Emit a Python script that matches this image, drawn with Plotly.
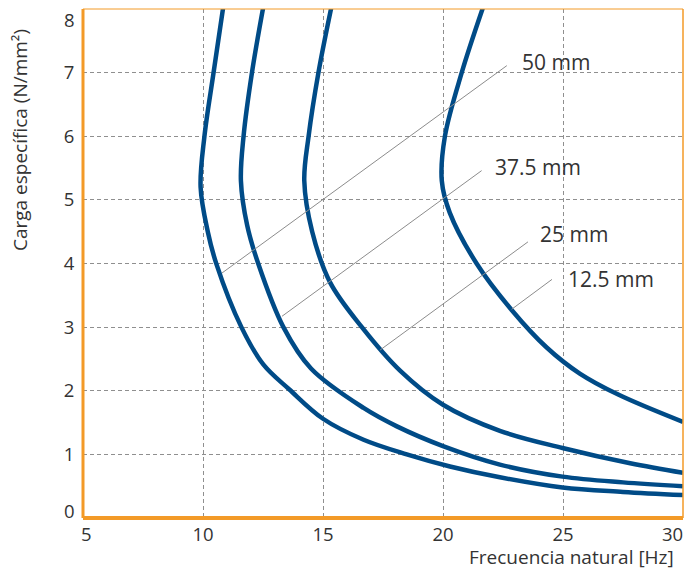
import plotly.graph_objects as go

# ---- data ----
freq_50 = [10.85, 10.44, 10.06, 9.90, 10.20, 10.56, 11.60, 12.52, 13.60, 15.00, 16.69, 18.49, 20.29, 22.37, 24.98, 27.5, 30.0]
load_50 = [8.05, 7.0, 6.0, 5.2, 4.5, 3.99, 3.0, 2.41, 2.02, 1.56, 1.23, 1.0, 0.81, 0.64, 0.48, 0.41, 0.36]

freq_375 = [12.52, 12.04, 11.69, 11.58, 11.84, 12.30, 13.35, 14.50, 16.69, 18.08, 20.0, 22.37, 24.98, 27.5, 30.0]
load_375 = [8.05, 7.0, 6.0, 5.3, 4.6, 4.0, 3.0, 2.35, 1.73, 1.44, 1.13, 0.84, 0.65, 0.56, 0.50]

freq_25 = [15.36, 14.81, 14.40, 14.22, 14.55, 15.30, 16.62, 18.20, 20.0, 22.37, 24.98, 27.8, 30.0]
load_25 = [8.05, 7.0, 6.0, 5.3, 4.5, 3.70, 3.0, 2.32, 1.78, 1.37, 1.10, 0.86, 0.71]

freq_125 = [21.69, 20.78, 20.08, 19.95, 20.28, 21.40, 22.86, 24.32, 25.70, 27.30, 30.0]
load_125 = [8.05, 7.0, 6.0, 5.3, 4.8, 4.0, 3.27, 2.68, 2.27, 1.94, 1.51]

series_labels = ["50 mm", "37.5 mm", "25 mm", "12.5 mm"]
leader_x0 = [10.79, 13.29, 17.38, 22.86]
leader_y0 = [3.85, 3.17, 2.64, 3.28]
leader_x1 = [22.66, 21.61, 23.54, 24.54]
leader_y1 = [7.11, 5.46, 4.34, 3.75]
label_x = [23.2, 22.08, 23.95, 25.12]
label_y = [7.17, 5.51, 4.46, 3.76]

x_tick_vals = [10, 15, 20, 25]
x_tick_text = ["10", "15", "20", "25"]
x_end_vals = [5, 30]
x_end_text = ["5", "30"]
y_tick_vals = [1, 2, 3, 4, 5, 6, 7]
y_tick_text = ["1", "2", "3", "4", "5", "6", "7"]
y_end_vals = [0.12, 7.83]
y_end_text = ["0", "8"]

x_title = "Frecuencia natural [Hz]"
y_title = "Carga específica (N/mm²)"

BLUE = "#004B87"
ORANGE = "#F39A27"
TXT = "#333333"
FONT = "Open Sans"
FS = 19
FS_TICK = 18.5
FS_ANN = 21

fig = go.Figure()

for fx, fy in [(freq_50, load_50), (freq_375, load_375), (freq_25, load_25), (freq_125, load_125)]:
    fig.add_trace(go.Scatter(x=fx, y=fy, mode="lines",
                             line=dict(color=BLUE, width=4.5, shape="spline", smoothing=1.0),
                             hoverinfo="skip", showlegend=False))

for i in range(len(series_labels)):
    fig.add_trace(go.Scatter(x=[leader_x0[i], leader_x1[i]], y=[leader_y0[i], leader_y1[i]],
                             mode="lines", line=dict(color="#8c8c8c", width=1),
                             hoverinfo="skip", showlegend=False))
    fig.add_annotation(x=label_x[i], y=label_y[i], text=series_labels[i], showarrow=False,
                       xanchor="left", yanchor="middle", font=dict(family=FONT, size=FS_ANN, color=TXT))

# end tick labels
fig.add_annotation(x=x_end_vals[0], y=0, yref="paper", text=x_end_text[0], showarrow=False,
                   xanchor="left", yanchor="top", xshift=-3, yshift=-2, borderpad=0,
                   font=dict(family=FONT, size=FS_TICK, color=TXT))
fig.add_annotation(x=x_end_vals[1], y=0, yref="paper", text=x_end_text[1], showarrow=False,
                   xanchor="right", yanchor="top", xshift=1, yshift=-2, borderpad=0,
                   font=dict(family=FONT, size=FS_TICK, color=TXT))
for v, t in zip(y_end_vals, y_end_text):
    fig.add_annotation(x=0, xref="paper", y=v, text=t, showarrow=False,
                       xanchor="right", yanchor="middle", xshift=-6,
                       font=dict(family=FONT, size=FS_TICK, color=TXT))

fig.add_annotation(x=1, xref="paper", y=0, yref="paper", text=x_title, showarrow=False,
                   xanchor="right", yanchor="middle", xshift=-8, yshift=-39, borderpad=0,
                   font=dict(family=FONT, size=FS, color=TXT))
fig.add_annotation(x=-0.105, xref="paper", y=1, yref="paper", text=y_title, showarrow=False,
                   textangle=-90, xanchor="center", yanchor="top", yshift=-18,
                   font=dict(family=FONT, size=FS, color=TXT))

# frame
fig.add_shape(type="line", xref="paper", yref="paper", x0=0, x1=1, y0=1, y1=1,
              line=dict(color=ORANGE, width=1))
fig.add_shape(type="line", xref="paper", yref="paper", x0=1, x1=1, y0=0, y1=1,
              line=dict(color=ORANGE, width=1.5))
fig.add_shape(type="line", xref="paper", yref="paper", x0=0, x1=0, y0=0, y1=1,
              line=dict(color=ORANGE, width=3))
fig.add_shape(type="line", xref="paper", yref="paper", x0=0, x1=1, y0=0, y1=0,
              line=dict(color=ORANGE, width=4))

fig.update_xaxes(range=[5, 30], tickvals=x_tick_vals, ticktext=x_tick_text,
                 showgrid=True, gridcolor="#8f8f8f", griddash="4px,3px", gridwidth=1,
                 zeroline=False, showline=False, ticks="outside", ticklen=0,
                 tickcolor="rgba(0,0,0,0)", tickfont=dict(family=FONT, size=FS_TICK, color=TXT))
fig.update_yaxes(range=[0, 8.0], tickvals=y_tick_vals, ticktext=y_tick_text,
                 showgrid=True, gridcolor="#8f8f8f", griddash="4px,3px", gridwidth=1,
                 zeroline=False, showline=False, ticks="outside", ticklen=4,
                 tickcolor="rgba(0,0,0,0)", tickfont=dict(family=FONT, size=FS_TICK, color=TXT))

fig.update_layout(width=684, height=569, margin=dict(l=83, r=1, t=9, b=51),
                  plot_bgcolor="white", paper_bgcolor="white", showlegend=False)

fig.write_html("out.html", config={"displayModeBar": False},
               post_script="document.body.style.margin='0';document.body.style.overflow='hidden';")
